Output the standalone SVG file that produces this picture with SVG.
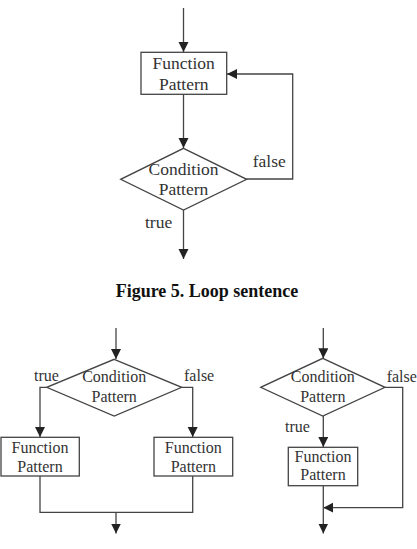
<svg xmlns="http://www.w3.org/2000/svg" width="417" height="549" viewBox="0 0 417 549">
<style>
.box{fill:#fff;stroke:#444;stroke-width:1.3}
.ln{fill:none;stroke:#444;stroke-width:1.3}
.t{font-family:"Liberation Serif","Times New Roman",serif;font-size:16px;fill:#333;text-anchor:middle}
.tl{font-family:"Liberation Serif","Times New Roman",serif;font-size:16px;fill:#333}
.big{font-size:17.5px}
.cap{font-family:"Liberation Serif","Times New Roman",serif;font-size:18px;font-weight:bold;fill:#111;text-anchor:middle}
</style>
<defs>
<marker id="ah" markerUnits="userSpaceOnUse" markerWidth="10" markerHeight="12" refX="10" refY="5" orient="auto">
<path d="M0,0 L10,5 L0,10 Z" fill="#222"/>
</marker>
</defs>
<rect width="417" height="549" fill="#fff"/>
<g id="connectors">
<line class="ln" x1="183.5" y1="8" x2="183.5" y2="52" marker-end="url(#ah)"/>
<line class="ln" x1="183.5" y1="94" x2="183.5" y2="148" marker-end="url(#ah)"/>
<polyline class="ln" points="246.7,179 292.7,179 292.7,74 227,74" marker-end="url(#ah)"/>
<line class="ln" x1="183.5" y1="210" x2="183.5" y2="259" marker-end="url(#ah)"/>
<line class="ln" x1="116" y1="328" x2="116" y2="359" marker-end="url(#ah)"/>
<polyline class="ln" points="46.7,387.3 40,387.3 40,437" marker-end="url(#ah)"/>
<polyline class="ln" points="181.7,387.3 192.7,387.3 192.7,437" marker-end="url(#ah)"/>
<polyline class="ln" points="40,476 40,512.3 192.7,512.3 192.7,476"/>
<line class="ln" x1="116" y1="512.3" x2="116" y2="533.5" marker-end="url(#ah)"/>
<line class="ln" x1="323.3" y1="328" x2="323.3" y2="358.3" marker-end="url(#ah)"/>
<line class="ln" x1="323.3" y1="416" x2="323.3" y2="447" marker-end="url(#ah)"/>
<polyline class="ln" points="385,387.3 402.7,387.3 402.7,507.7 323.3,507.7" marker-end="url(#ah)"/>
<line class="ln" x1="323.3" y1="485.7" x2="323.3" y2="533.5" marker-end="url(#ah)"/>
</g>
<g id="loop-function">
<rect class="box" x="141" y="52.3" width="85.7" height="42"/>
<text class="t big" x="183.7" y="68.5">Function</text>
<text class="t big" x="183.7" y="89.5">Pattern</text>
</g>
<g id="loop-condition">
<polygon class="box" points="183.5,148.3 246.7,179.3 183.5,210 120.7,179.3"/>
<text class="t big" x="183.5" y="175">Condition</text>
<text class="t big" x="183.5" y="195">Pattern</text>
</g>
<g id="loop-labels">
<text class="tl big" x="252.7" y="167">false</text>
<text class="tl big" x="145" y="227.7">true</text>
</g>
<g id="caption">
<text class="cap" x="207" y="297">Figure 5. Loop sentence</text>
</g>
<g id="if-condition">
<polygon class="box" points="114.2,359.3 181.7,387.3 114.2,416 46.7,387.3"/>
<text class="t" x="114.2" y="382.3">Condition</text>
<text class="t" x="114.2" y="401.7">Pattern</text>
<text class="tl" x="34" y="380.7">true</text>
<text class="tl" x="184" y="380.7">false</text>
</g>
<g id="if-true-function">
<rect class="box" x="1" y="437.3" width="78.3" height="38.7"/>
<text class="t" x="40" y="453.3">Function</text>
<text class="t" x="40" y="471.7">Pattern</text>
</g>
<g id="if-false-function">
<rect class="box" x="154" y="437.3" width="78.7" height="38.7"/>
<text class="t" x="193.3" y="453.3">Function</text>
<text class="t" x="193.3" y="471.7">Pattern</text>
</g>
<g id="opt-condition">
<polygon class="box" points="322.8,358.3 385,387.3 322.8,416 260.7,387.3"/>
<text class="t" x="322.8" y="382.3">Condition</text>
<text class="t" x="322.8" y="402.3">Pattern</text>
<text class="tl" x="386.7" y="381.7">false</text>
<text class="tl" x="285" y="431.7">true</text>
</g>
<g id="opt-function">
<rect class="box" x="288.3" y="447.3" width="69.4" height="38.4"/>
<text class="t" x="323" y="461.7">Function</text>
<text class="t" x="323" y="480">Pattern</text>
</g>
</svg>
